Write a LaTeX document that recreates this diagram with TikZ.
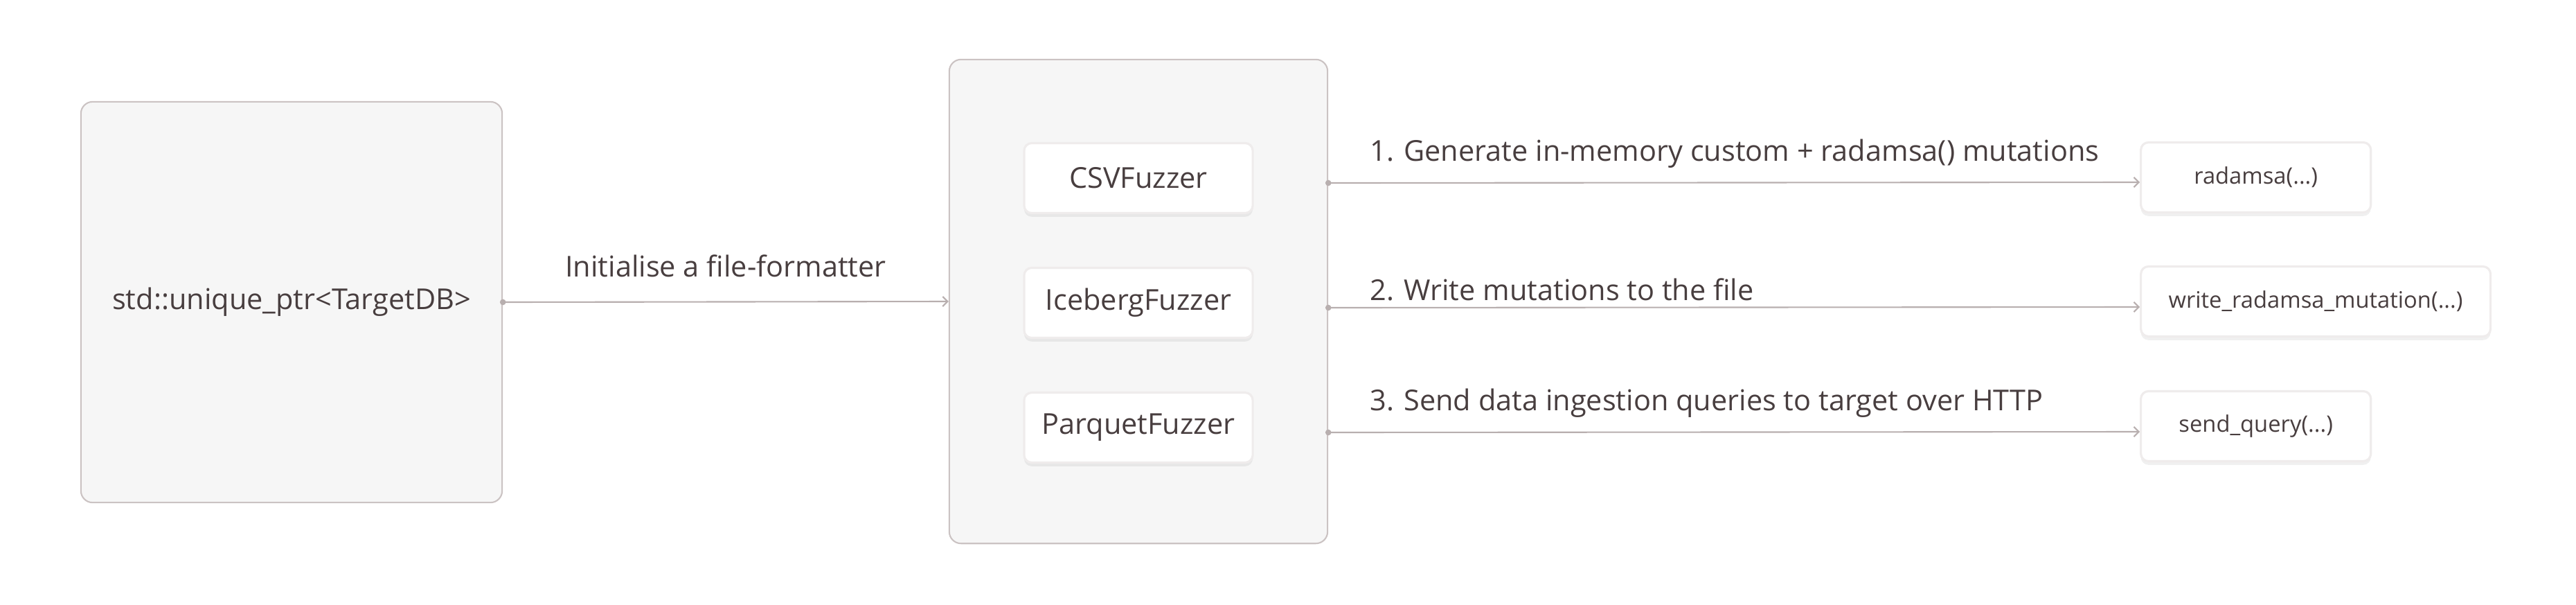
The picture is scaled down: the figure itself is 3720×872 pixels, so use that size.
\documentclass[tikz,border=0pt]{standalone}
\usepackage{fontspec}
\setmainfont{Open Sans}
\usepackage{tikz}
\usetikzlibrary{calc}
\usetikzlibrary{arrows.meta}
\usetikzlibrary{shadows}
\definecolor{boxline}{HTML}{CBC3C3}
\definecolor{boxfill}{HTML}{F6F6F6}
\definecolor{cardline}{HTML}{EFECEC}
\definecolor{linkc}{HTML}{B8AFAF}
\definecolor{inktext}{HTML}{483E3F}

\begin{document}
\begin{tikzpicture}[x=0.01cm, y=-0.01cm, text=inktext, font=\fontsize{11.8}{14}\selectfont,
  box/.style={draw=boxline, fill=boxfill, line width=0.6pt, rounded corners=0.17cm},
  card/.style={draw=cardline, fill=white, line width=0.9pt, rounded corners=0.11cm, minimum height=1.01cm,
    drop shadow={shadow xshift=0pt, shadow yshift=-1.5pt, opacity=.06, fill=black}},
  fuzzer/.style={card, minimum width=3.30cm},
  call/.style={card, minimum width=3.32cm, inner xsep=0.4cm, font=\fontsize{9.3}{11}\selectfont},
  link/.style={draw=linkc, line width=0.6pt, {Circle[length=2.4pt]}-{Straight Barb[length=2pt,width=4pt]}, shorten <=-1.2pt},
  note/.style={inner sep=0pt}]
\useasboundingbox (0,0) rectangle (3720,872);
\node[name=db, box, minimum width=6.08cm, minimum height=5.78cm] at (421,436) {std::unique\_ptr<TargetDB>};
\node[name=mid, box, minimum width=5.46cm, minimum height=6.98cm] at (1644,435) {};
\node[name=csv, fuzzer] at (1644,257) {CSVFuzzer};
\node[name=iceberg, fuzzer] at (1644,437) {IcebergFuzzer};
\node[name=parquet, fuzzer] at (1644,617) {ParquetFuzzer};
\node[name=radamsa, call, anchor=west] at (3090,256) {radamsa(...)};
\node[name=writer, call, anchor=west] at (3090,435) {write\_radamsa\_mutation(...)};
\node[name=query, call, anchor=west] at (3090,615) {send\_query(...)};
\draw[link] (db.east) to node[name=init, note, midway, anchor=base, yshift=0.36cm] {Initialise a file-formatter} (mid.west);
\draw[link] ($(csv -| mid.east)+(0,7)$) to node[name=step1, note, pos=0, anchor=base west, xshift=0.59cm, yshift=0.31cm] {1. Generate in-memory custom + radamsa() mutations} ($(radamsa.west)+(0,7)$);
\draw[link] ($(iceberg -| mid.east)+(0,7)$) to node[name=step2, note, pos=0, anchor=base west, xshift=0.59cm, yshift=0.11cm] {2. Write mutations to the file} ($(writer.west)+(0,8)$);
\draw[link] ($(parquet -| mid.east)+(0,7)$) to node[name=step3, note, pos=0, anchor=base west, xshift=0.59cm, yshift=0.31cm] {3. Send data ingestion queries to target over HTTP} ($(query.west)+(0,8)$);
\end{tikzpicture}
\end{document}
